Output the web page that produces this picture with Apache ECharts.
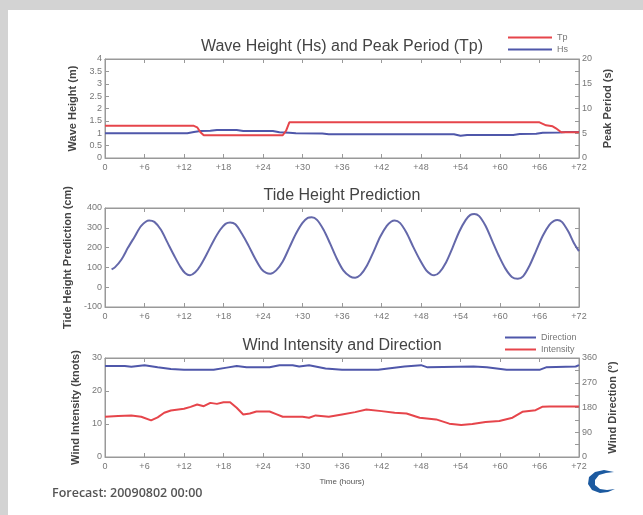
<!DOCTYPE html>
<html>
<head>
<meta charset="utf-8">
<script src="https://cdn.jsdelivr.net/npm/echarts@6/dist/echarts.min.js"></script>
<style>
  html, body { margin: 0; padding: 0; background: #d3d3d3; }
  #main { width: 643px; height: 515px; }
</style>
</head>
<body>
<div id="main"></div>
<script>
var chartDom = document.getElementById('main');
var myChart = echarts.init(chartDom);
var option;

// hours from forecast start, [hour, value]
const hsData = [
  [0, 1.0], [12.5, 1.0], [13.5, 1.05], [14.5, 1.09], [16, 1.1], [17, 1.13], [20, 1.13],
  [21, 1.09], [25.5, 1.09], [26.5, 1.04], [28, 1.02], [29, 1.0], [33, 0.99], [34, 0.96],
  [53, 0.96], [54, 0.9], [55, 0.93], [62, 0.93], [63, 0.97], [65.5, 0.98], [66.5, 1.02],
  [69, 1.03], [70, 1.05], [72, 1.05]
];
const tpData = [
  [0, 6.5], [13.5, 6.5], [14, 6.2], [14.5, 5.2], [15, 4.6], [27, 4.6], [27.5, 5.5],
  [28, 7.2], [66, 7.2], [67, 6.6], [68, 6.4], [68.5, 6.0], [69.3, 5.2], [72, 5.2]
];
const tideData = [
  [1, 90], [1.5, 100], [2.5, 140], [3.5, 200], [4.5, 255], [5.5, 310], [6.7, 337],
  [7.5, 330], [8.5, 290], [9.5, 225], [10.5, 160], [11.5, 100], [12.2, 70], [12.9, 60], [13.7, 75],
  [14.5, 110], [15.5, 170], [16.5, 235], [17.5, 290], [18.3, 320], [19, 327], [19.8, 318],
  [20.8, 270], [21.8, 210], [22.8, 145], [23.8, 90], [24.5, 72], [25.1, 68], [26, 85],
  [27, 130], [28, 200], [29, 270], [30, 325], [30.8, 350], [31.4, 353], [32.2, 340],
  [33.2, 290], [34.2, 220], [35.2, 145], [36.2, 85], [37.2, 55], [38, 48], [38.8, 62],
  [39.8, 110], [40.8, 180], [41.8, 255], [42.8, 310], [43.5, 332], [44, 337], [44.8, 325],
  [45.8, 275], [46.8, 205], [47.8, 140], [48.8, 85], [49.5, 65], [50, 60], [50.8, 75],
  [51.8, 125], [52.8, 200], [53.8, 280], [54.8, 340], [55.5, 365], [56.1, 370], [56.8, 360],
  [57.8, 310], [58.8, 235], [59.8, 160], [60.8, 95], [61.8, 52], [62.7, 43], [63.5, 55],
  [64.5, 110], [65.5, 185], [66.5, 260], [67.5, 315], [68.2, 335], [68.7, 340], [69.4, 330],
  [70.4, 280], [71.2, 225], [72, 182]
];
const dirData = [
  [0, 331], [3, 331], [4, 328], [6, 334], [8, 326], [10, 320], [12, 317], [16.5, 317],
  [18.5, 325], [20, 331], [21.5, 326], [25, 326], [26.5, 334], [28.5, 334], [29.5, 329],
  [31, 334], [33.5, 322], [36, 317], [41.5, 317], [43, 322], [45.5, 329], [48, 334],
  [49, 326], [56, 329], [58, 326], [61, 317], [66, 317], [67, 326], [71.5, 329], [72, 334]
];
const intData = [
  [0, 12.2], [2, 12.4], [4, 12.6], [5.5, 12.2], [7, 11.1], [8, 12.0], [9, 13.4], [10, 14.1],
  [12, 14.6], [13, 15.2], [14, 15.9], [15, 15.4], [16, 16.4], [17, 16.1], [18, 16.6], [19, 16.6],
  [20, 14.9], [21, 12.9], [22, 13.2], [23, 13.8], [25, 13.8], [26, 13.0], [27, 12.2], [30, 12.2],
  [31, 11.9], [32, 12.6], [34, 12.2], [36, 12.9], [38, 13.6], [39.7, 14.4], [42, 13.9], [44, 13.4],
  [45.8, 13.2], [47.8, 11.9], [50.3, 11.4], [52.3, 10.1], [54.1, 9.7], [55.8, 10.0], [57.8, 10.6],
  [59.9, 10.9], [61.9, 11.9], [63.4, 13.7], [65.4, 14.2], [66.4, 15.2], [67.5, 15.3], [72, 15.3]
];

const RED = '#e6454b';
const BLUE = '#4f57aa';
const FONT = 'Liberation Sans';
const tops = [59, 208, 358];

const labelStyle = { color: '#777', fontSize: 9, fontFamily: FONT };
const nameStyle = { color: '#444', fontSize: 11, fontWeight: 'bold', fontFamily: FONT };
const lineStyle = { color: '#999', width: 1 };

function xBottom(i) {
  return {
    type: 'value', gridIndex: i, position: 'bottom', min: 0, max: 72, interval: 6,
    axisLine: { onZero: false, lineStyle: lineStyle },
    axisTick: { inside: true, length: 4, lineStyle: lineStyle },
    axisLabel: Object.assign({ margin: 5, formatter: v => v === 0 ? '0' : '+' + v }, labelStyle),
    splitLine: { show: false }
  };
}
function xTop(i) {
  return {
    type: 'value', gridIndex: i, position: 'top', min: 0, max: 72, interval: 6,
    axisLine: { onZero: false, lineStyle: lineStyle },
    axisTick: { inside: true, length: 4, lineStyle: lineStyle },
    axisLabel: { show: false }, splitLine: { show: false }
  };
}
function yAx(i, pos, min, max, interval, name, gap, fmt) {
  const label = Object.assign({ margin: 3, show: fmt !== null }, labelStyle);
  if (fmt) label.formatter = fmt;
  return {
    type: 'value', gridIndex: i, position: pos, min: min, max: max, interval: interval,
    name: name, nameLocation: 'middle', nameGap: gap, nameRotate: 90, nameTextStyle: nameStyle,
    axisLine: { show: true, onZero: false, lineStyle: lineStyle },
    axisTick: { inside: true, length: 4, lineStyle: lineStyle },
    axisLabel: label,
    splitLine: { show: false }
  };
}

const titleStyle = { color: '#444', fontSize: 16, fontWeight: 'normal', fontFamily: FONT };
const legendText = { color: '#777', fontSize: 9, fontFamily: FONT };

option = {
  backgroundColor: '#d3d3d3',
  animation: false,
  graphic: [
    { type: 'rect', z: -10, shape: { x: 8, y: 10, width: 640, height: 510 }, style: { fill: '#ffffff' } },
    { type: 'text', x: 52, y: 487, style: { text: 'Forecast: 20090802 00:00', fill: '#555', font: '600 12.5px "Open Sans"' } },
    {
      type: 'polygon',
      shape: {
        points: [[614, 472], [604, 470], [595, 472], [589, 477], [588, 484], [592, 490], [600, 493],
          [608, 492], [615, 489], [607, 490], [600, 489], [595, 485], [595, 480], [599, 475], [606, 473]]
      },
      style: { fill: '#1c5aa0' }
    }
  ],
  title: [
    { text: 'Wave Height (Hs) and Peak Period (Tp)', left: 342, top: 39, padding: 0, textAlign: 'center', textStyle: titleStyle },
    { text: 'Tide Height Prediction', left: 342, top: 188, padding: 0, textAlign: 'center', textStyle: titleStyle },
    { text: 'Wind Intensity and Direction', left: 342, top: 338, padding: 0, textAlign: 'center', textStyle: titleStyle }
  ],
  legend: [
    { data: ['Tp', 'Hs'], orient: 'vertical', left: 503, top: 28, icon: 'rect', itemWidth: 44, itemHeight: 2,
      itemGap: 3, textStyle: legendText },
    { data: ['Direction', 'Intensity'], orient: 'vertical', left: 500, top: 328, icon: 'rect', itemWidth: 31, itemHeight: 2,
      itemGap: 3, textStyle: legendText }
  ],
  grid: tops.map(t => ({ left: 105, right: 64, top: t, height: 99, show: true, borderColor: '#999', borderWidth: 1 })),
  xAxis: [
    xBottom(0), xTop(0),
    xBottom(1), xTop(1),
    Object.assign(xBottom(2), { name: 'Time (hours)', nameLocation: 'middle', nameGap: 21,
      nameTextStyle: { color: '#555', fontSize: 8, fontFamily: FONT } }), xTop(2)
  ],
  yAxis: [
    yAx(0, 'left', 0, 4, 0.5, 'Wave Height (m)', 23),
    yAx(0, 'right', 0, 20, 2.5, 'Peak Period (s)', 20, v => v % 5 === 0 ? v : ''),
    yAx(1, 'left', -100, 400, 100, 'Tide Height Prediction (cm)', 25),
    yAx(1, 'right', -100, 400, 100, '', 10, null),
    yAx(2, 'left', 0, 30, 10, 'Wind Intensity (knots)', 20),
    yAx(2, 'right', 0, 360, 45, 'Wind Direction (°)', 19, v => v % 90 === 0 ? v : '')
  ],
  series: [
    { name: 'Hs', type: 'line', xAxisIndex: 0, yAxisIndex: 0, data: hsData, showSymbol: false,
      lineStyle: { color: BLUE, width: 2 }, itemStyle: { color: BLUE } },
    { name: 'Tp', type: 'line', xAxisIndex: 0, yAxisIndex: 1, data: tpData, showSymbol: false,
      lineStyle: { color: RED, width: 2 }, itemStyle: { color: RED } },
    { name: 'Tide', type: 'line', xAxisIndex: 2, yAxisIndex: 2, data: tideData, showSymbol: false, smooth: 0.3,
      lineStyle: { color: '#6468aa', width: 2 }, itemStyle: { color: '#6468aa' } },
    { name: 'Direction', type: 'line', xAxisIndex: 4, yAxisIndex: 5, data: dirData, showSymbol: false,
      lineStyle: { color: BLUE, width: 2 }, itemStyle: { color: BLUE } },
    { name: 'Intensity', type: 'line', xAxisIndex: 4, yAxisIndex: 4, data: intData, showSymbol: false,
      lineStyle: { color: RED, width: 2 }, itemStyle: { color: RED } }
  ]
};

option && myChart.setOption(option);
</script>
</body>
</html>
